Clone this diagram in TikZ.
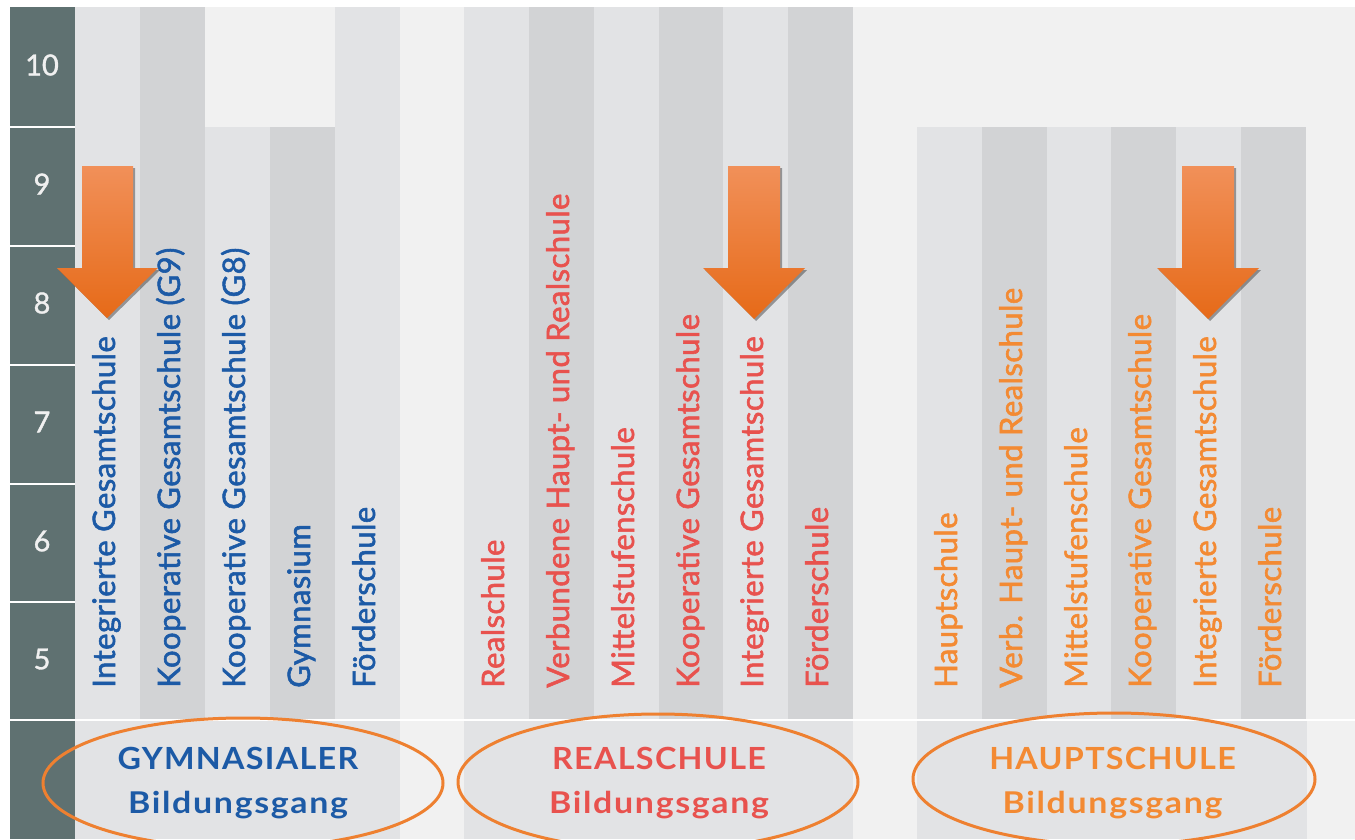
\documentclass[tikz,border=0pt]{standalone}
\usepackage{fontspec}
\setmainfont{Lato}
\newfontfamily\vfont[LetterSpace=1.5, FakeBold=1.8]{Lato}
\newfontfamily\numfont[FakeBold=1.2]{Lato}
\newfontfamily\capfont[LetterSpace=4]{Lato}
\newfontfamily\lowfont[LetterSpace=5]{Lato}
\usetikzlibrary{shadows,shapes.geometric}
\definecolor{bg}{HTML}{F1F1F1}
\definecolor{cl}{HTML}{E2E3E5}
\definecolor{cd}{HTML}{D2D3D5}
\definecolor{slate}{HTML}{5F7171}
\definecolor{numc}{HTML}{F0F0F0}
\definecolor{gblue}{HTML}{1C5AA6}
\definecolor{rred}{HTML}{E8524E}
\definecolor{horange}{HTML}{F38A33}
\definecolor{ering}{HTML}{EE8030}
\definecolor{atop}{HTML}{F19059}
\definecolor{amid}{HTML}{F37E2B}
\definecolor{abot}{HTML}{E66A18}
\newcommand\wideA[1]{\scalebox{1.06}[1]{#1}}
\newcommand\wideB[1]{\scalebox{1.13}[1]{#1}}
\tikzset{
  vt/.style={rotate=90, anchor=base west, inner sep=0pt, font=\vfont\fontsize{31}{31}\selectfont},
  num/.style={text=numc, inner sep=0pt, font=\numfont\fontsize{29}{29}\selectfont},
  ring/.style={draw=ering, line width=3pt, ellipse, inner sep=0pt, minimum width=400pt},
  labA/.style={anchor=base, inner sep=0pt, font=\capfont\fontsize{30.5}{31}\selectfont\bfseries},
  labB/.style={anchor=base, inner sep=0pt, font=\lowfont\fontsize{30}{31}\selectfont\bfseries},
  bigarrow/.style={top color=atop, middle color=amid, bottom color=abot,
    drop shadow={shadow xshift=2pt, shadow yshift=-2pt, opacity=.35, fill=black}}
}
\begin{document}
\begin{tikzpicture}[x=1pt,y=-1pt]
\useasboundingbox (0,0) rectangle (1355,839);
\fill[white] (0,0) rectangle (1355,839);
\fill[bg] (10,7) rectangle (1355,839);
% columns
\foreach \x/\c/\t in {75/cl/7,140/cd/7,205/cl/127,270/cd/127,335/cl/7,
  464/cl/7,529/cd/7,594/cl/7,659/cd/7,723/cl/7,788/cd/7,
  917/cl/127,982/cd/127,1047/cl/127,1111/cd/127,1176/cl/127,1241/cd/127}
  \fill[\c] (\x,\t) rectangle (\x+65,720);
% bottom bands
\fill[cl] (75,720) rectangle (400,839);
\fill[cl] (464,720) rectangle (853,839);
\fill[cl] (917,720) rectangle (1307,839);
% grade column
\fill[slate] (10,7) rectangle (75,839);
\foreach \y in {127,246,365,484,602}
  \draw[white, line width=2pt] (10,\y) -- (75,\y);
\draw[white, line width=2.5pt] (10,720) -- (1355,720);
\node[num] (g10) at (42,65) {10};
\node[num] (g9) at (42,184) {9};
\node[num] (g8) at (42,303) {8};
\node[num] (g7) at (42,422) {7};
\node[num] (g6) at (42,541) {6};
\node[num] (g5) at (42,659) {5};
% gymnasial texts
\node[vt, text=gblue] (t1) at (115,688) {Integrierte Gesamtschule};
\node[vt, text=gblue] (t2) at (180,688) {Kooperative Gesamtschule (G9)};
\node[vt, text=gblue] (t3) at (245,688) {Kooperative Gesamtschule (G8)};
\node[vt, text=gblue] (t4) at (310,688) {Gymnasium};
\node[vt, text=gblue] (t5) at (375,688) {Förderschule};
% realschule texts
\node[vt, text=rred] (r1) at (504,688) {Realschule};
\node[vt, text=rred] (r2) at (569,688) {Verbundene Haupt- und Realschule};
\node[vt, text=rred] (r3) at (634,688) {Mittelstufenschule};
\node[vt, text=rred] (r4) at (699,688) {Kooperative Gesamtschule};
\node[vt, text=rred] (r5) at (763,688) {Integrierte Gesamtschule};
\node[vt, text=rred] (r6) at (828,688) {Förderschule};
% hauptschule texts
\node[vt, text=horange] (h1) at (957,688) {Hauptschule};
\node[vt, text=horange] (h2) at (1022,688) {Verb. Haupt- und Realschule};
\node[vt, text=horange] (h3) at (1087,688) {Mittelstufenschule};
\node[vt, text=horange] (h4) at (1151,688) {Kooperative Gesamtschule};
\node[vt, text=horange] (h5) at (1216,688) {Integrierte Gesamtschule};
\node[vt, text=horange] (h6) at (1281,688) {Förderschule};
% arrows
\path[bigarrow] (82,166) -- (133,166) -- (133,268) -- (158,268) -- (107,318) -- (57,268) -- (82,268) -- cycle;
\path[bigarrow] (728,166) -- (780,166) -- (780,268) -- (805,268) -- (754,319) -- (703,268) -- (728,268) -- cycle;
\path[bigarrow] (1182,166) -- (1234,166) -- (1234,268) -- (1259,268) -- (1208,319) -- (1157,268) -- (1182,268) -- cycle;
% ellipses
\node[ring, minimum height=130pt] (eg) at (243,783) {};
\node[ring, minimum height=136pt] (er) at (658,782) {};
\node[ring, minimum height=132pt, minimum width=402pt] (eh) at (1114,779) {};
% labels
\node[labA, text=gblue] (lg1) at (238,769) {\wideA{GYMNASIALER}};
\node[labB, text=gblue] (lg2) at (238,813) {\wideB{Bildungsgang}};
\node[labA, text=rred] (lr1) at (659,769) {\wideA{REALSCHULE}};
\node[labB, text=rred] (lr2) at (659,813) {\wideB{Bildungsgang}};
\node[labA, text=horange] (lh1) at (1112.5,769) {\wideA{HAUPTSCHULE}};
\node[labB, text=horange] (lh2) at (1112.5,813) {\wideB{Bildungsgang}};
\end{tikzpicture}
\end{document}
